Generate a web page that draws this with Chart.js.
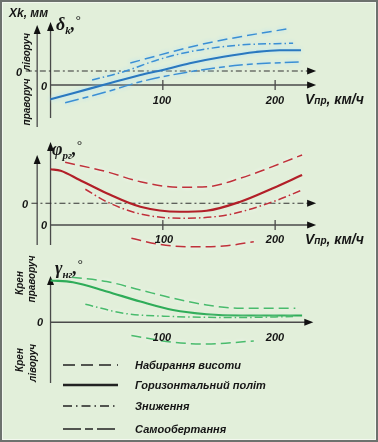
<!DOCTYPE html>
<html>
<head>
<meta charset="utf-8">
<script src="https://cdn.jsdelivr.net/npm/chart.js@4.4.1/dist/chart.umd.min.js"></script>
<style>
html, body { margin: 0; padding: 0; background: #fff; }
#fig { position: relative; width: 378px; height: 442px; background: #e2efda; overflow: hidden;
       font-family: "Liberation Sans", Arial, sans-serif; }
#frame { position: absolute; left: 0; top: 0; width: 378px; height: 442px; box-sizing: border-box;
         border: 2px solid #6d726e; box-shadow: inset 0 0 0 1px #f3f8ef; pointer-events: none; }
canvas { position: absolute; left: 0; }
.t { position: absolute; font-weight: bold; font-style: italic; color: #151515; white-space: nowrap; line-height: 1; }
.c { transform: translate(-50%, -50%); }
.l { transform: translateY(-50%); }
.r { transform: translate(-50%, -50%) rotate(-90deg); font-size: 10px; }
.tick { font-size: 11px; }
.g { font-family: "Liberation Serif", "DejaVu Serif", serif; font-weight: bold; font-size: 18px; }
.g sub { font-size: 11px; vertical-align: -4px; }
.g sup { font-size: 13px; font-weight: normal; vertical-align: 6px; }
.v { font-size: 14px; }
.v small { font-size: 10px; }
.leg { font-size: 11px; }
</style>
</head>
<body>
<div id="fig">
  <canvas id="c1" width="378" height="130" style="top:0px"></canvas>
  <canvas id="c2" width="378" height="130" style="top:125px"></canvas>
  <canvas id="c3" width="378" height="145" style="top:255px"></canvas>

  <!-- panel 1 texts -->
  <div class="t l" style="left:9px;top:13px;font-size:12px">Xk, мм</div>
  <div class="t l g" style="left:56px;top:24px">δ<sub>k</sub>,<sup>°</sup></div>
  <div class="t r" style="left:27px;top:52px">ліворуч</div>
  <div class="t r" style="left:27px;top:102px">праворуч</div>
  <div class="t c tick" style="left:19px;top:72px">0</div>
  <div class="t c tick" style="left:44px;top:86px">0</div>
  <div class="t c tick" style="left:162px;top:100px">100</div>
  <div class="t c tick" style="left:275px;top:100px">200</div>
  <div class="t l v" style="left:305px;top:99px">V<small>пр</small>, км/ч</div>

  <!-- panel 2 texts -->
  <div class="t l g" style="left:52px;top:149px">φ<sub>рг</sub>,<sup>°</sup></div>
  <div class="t c tick" style="left:25px;top:204px">0</div>
  <div class="t c tick" style="left:44px;top:225px">0</div>
  <div class="t c tick" style="left:164px;top:239px">100</div>
  <div class="t c tick" style="left:275px;top:239px">200</div>
  <div class="t l v" style="left:305px;top:239px">V<small>пр</small>, км/ч</div>

  <!-- panel 3 texts -->
  <div class="t l g" style="left:55px;top:268px">γ<sub>нг</sub>,<sup>°</sup></div>
  <div class="t r" style="left:20px;top:283px">Крен</div>
  <div class="t r" style="left:32px;top:279px">праворуч</div>
  <div class="t r" style="left:20px;top:360px">Крен</div>
  <div class="t r" style="left:33px;top:363px">ліворуч</div>
  <div class="t c tick" style="left:40px;top:322px">0</div>
  <div class="t c tick" style="left:162px;top:337px">100</div>
  <div class="t c tick" style="left:275px;top:337px">200</div>

  <!-- legend -->
  <svg style="position:absolute;left:0;top:0" width="378" height="442">
    <g stroke="#222" fill="none">
      <line x1="63" y1="365" x2="118" y2="365" stroke-width="1.5" stroke-dasharray="12 6"/>
      <line x1="63" y1="385" x2="118" y2="385" stroke-width="2.5"/>
      <line x1="63" y1="406" x2="118" y2="406" stroke-width="1.5" stroke-dasharray="9 4 1.5 4"/>
      <line x1="63" y1="429" x2="118" y2="429" stroke-width="1.5" stroke-dasharray="18 4 8 4"/>
    </g>
  </svg>
  <div class="t l leg" style="left:135px;top:365px">Набирання висоти</div>
  <div class="t l leg" style="left:135px;top:385px">Горизонтальний політ</div>
  <div class="t l leg" style="left:135px;top:406px">Зниження</div>
  <div class="t l leg" style="left:135px;top:429px">Самообертання</div>

  <div id="frame"></div>
</div>

<script>
// ---- дані ----
const xTicks = [100, 200];

// δk, град — кут відхилення
const dSpeedLevel = [0, 20, 50, 80, 100, 124, 154, 183, 204, 223];
const dLevel      = [-5.7, -3.3, 0.4, 4.0, 6.0, 8.7, 11.3, 13.2, 13.9, 13.9];
const dSpeedClimb = [71, 109, 139, 169, 210];
const dClimb      = [8.8, 13.4, 16.7, 19.3, 22.4];
const dSpeedDesc  = [37, 65, 95, 124, 169, 216];
const dDesc       = [2.0, 5.3, 10.0, 13.3, 16.0, 16.7];
const dSpeedAuto  = [13, 50, 80, 124, 169, 224];
const dAuto       = [-7.1, -2.7, 1.3, 5.3, 8.0, 9.3];

// φрг, град
const pSpeedLevel = [0, 9, 26, 50, 80, 115, 139, 169, 198, 224];
const pLevel      = [22.3, 21.7, 18.0, 12.7, 7.3, 5.3, 5.7, 9.3, 14.7, 20.0];
const pSpeedClimb = [13, 50, 80, 115, 139, 169, 224];
const pClimb      = [25.1, 21.3, 17.3, 15.1, 15.3, 18.7, 28.0];
const pSpeedDesc  = [31, 50, 80, 118, 157, 198, 224];
const pDesc       = [14.3, 9.3, 4.4, 2.7, 4.0, 9.3, 14.0];
const pSpeedAuto  = [72, 95, 124, 154, 181];
const pAuto       = [-5.3, -7.6, -8.7, -8.4, -6.7];

// γнг, град
const gSpeedLevel = [0, 20, 50, 80, 109, 139, 169, 224];
const gLevel      = [16.7, 16.0, 12.3, 8.3, 4.9, 3.2, 2.7, 2.7];
const gSpeedClimb = [19, 50, 80, 109, 139, 169, 218];
const gClimb      = [18.0, 16.3, 12.9, 9.6, 6.9, 5.6, 5.6];
const gSpeedDesc  = [31, 65, 109, 169, 216];
const gDesc       = [7.2, 3.6, 2.3, 1.9, 2.3];
const gSpeedAuto  = [72, 109, 139, 181];
const gAuto       = [-5.3, -8.0, -8.7, -7.5];

// ---- стилі ----
const DASH = { climb: [10, 5], level: [], desc: [8, 3, 1.5, 3], auto: [14, 4, 6, 4] };

function pts(xs, ys) {
  return xs.map((v, i) => ({ x: v, y: ys[i] }));
}

function ds(xs, ys, kind, color, halo) {
  return {
    data: pts(xs, ys),
    borderColor: color,
    borderWidth: kind === 'level' ? 2.2 : 1.5,
    borderDash: DASH[kind],
    cubicInterpolationMode: 'monotone',
    pointRadius: 0,
    fill: false,
    halo: halo
  };
}

function arrow(ctx, x, y, dir) {
  ctx.save();
  ctx.fillStyle = '#111';
  ctx.beginPath();
  if (dir === 'up') {
    ctx.moveTo(x, y); ctx.lineTo(x - 3.5, y + 9); ctx.lineTo(x + 3.5, y + 9);
  } else {
    ctx.moveTo(x, y); ctx.lineTo(x - 9, y - 3.5); ctx.lineTo(x - 9, y + 3.5);
  }
  ctx.closePath();
  ctx.fill();
  ctx.restore();
}

// осі зі стрілками
const axesPlugin = {
  id: 'axes',
  beforeDatasetsDraw(chart, args, o) {
    const { ctx, scales: { x, y } } = chart;
    const x0 = x.getPixelForValue(0);
    const xe = x.getPixelForValue(o.xEnd);
    const y0 = y.getPixelForValue(0);
    ctx.save();
    ctx.strokeStyle = '#4a4a4a';
    ctx.lineWidth = 1.3;
    // внутрішня вертикальна вісь
    ctx.beginPath();
    ctx.moveTo(x0, y.getPixelForValue(o.axTop) + 6);
    ctx.lineTo(x0, y.getPixelForValue(o.axBottom));
    ctx.stroke();
    arrow(ctx, x0, y.getPixelForValue(o.axTop), 'up');
    // зовнішня вісь
    if (o.outer) {
      const xo = x.getPixelForValue(o.outer.x);
      ctx.beginPath();
      ctx.moveTo(xo, y.getPixelForValue(o.outer.top) + 6);
      ctx.lineTo(xo, y.getPixelForValue(o.outer.bottom));
      ctx.stroke();
      arrow(ctx, xo, y.getPixelForValue(o.outer.top), 'up');
    }
    // горизонтальна вісь
    ctx.beginPath();
    ctx.moveTo(x0, y0);
    ctx.lineTo(xe - 6, y0);
    ctx.stroke();
    arrow(ctx, xe, y0, 'right');
    if (o.ticks) {
      xTicks.forEach(t => {
        const px = x.getPixelForValue(t);
        ctx.beginPath();
        ctx.moveTo(px, y0 - 5);
        ctx.lineTo(px, y0 + 5);
        ctx.stroke();
      });
    }
    // нуль зовнішньої шкали
    if (o.ref != null) {
      const yr = y.getPixelForValue(o.ref);
      ctx.strokeStyle = '#333';
      ctx.lineWidth = 1.1;
      ctx.setLineDash([6, 3, 2, 3]);
      ctx.beginPath();
      ctx.moveTo(x.getPixelForValue(o.refStart), yr);
      ctx.lineTo(xe - 6, yr);
      ctx.stroke();
      ctx.setLineDash([]);
      arrow(ctx, xe, yr, 'right');
    }
    ctx.restore();
  },
  beforeDatasetDraw(chart, args) {
    const d = args.meta.controller.getDataset();
    chart.ctx.save();
    if (d.halo) {
      chart.ctx.shadowColor = d.halo;
      chart.ctx.shadowBlur = 4;
    }
  },
  afterDatasetDraw(chart) {
    chart.ctx.restore();
  }
};

function makePanel(id, yMin, yMax, datasets, axOpts) {
  new Chart(document.getElementById(id).getContext('2d'), {
    type: 'line',
    data: { datasets: datasets },
    plugins: [axesPlugin],
    options: {
      responsive: false,
      animation: false,
      devicePixelRatio: 1,
      layout: { padding: 0 },
      scales: {
        x: { type: 'linear', display: false, min: -45, max: 291.6 },
        y: { type: 'linear', display: false, min: yMin, max: yMax }
      },
      plugins: {
        legend: { display: false },
        tooltip: { enabled: false },
        axes: axOpts
      }
    }
  });
}

const BLUE = '#2a78bf', BLUE2 = '#3b8fd4', HALO_B = 'rgba(170,225,255,0.95)';
const RED = '#b21f28', RED2 = '#c0313a', HALO_R = 'rgba(255,255,255,0.8)';
const GREEN = '#2eac58', GREEN2 = '#49bb6c', HALO_G = 'rgba(255,255,255,0.7)';

makePanel('c1', -18, 34, [
  ds(dSpeedClimb, dClimb, 'climb', BLUE2, HALO_B),
  ds(dSpeedDesc, dDesc, 'desc', BLUE2, HALO_B),
  ds(dSpeedAuto, dAuto, 'auto', BLUE2, HALO_B),
  ds(dSpeedLevel, dLevel, 'level', BLUE, HALO_B)
], { xEnd: 236.5, axTop: 25.2, axBottom: -13.2, ticks: true, ref: 5.6, refStart: -22,
     outer: { x: -11.9, top: 24, bottom: -16.8 } });

makePanel('c2', -12, 40, [
  ds(pSpeedClimb, pClimb, 'climb', RED2, HALO_R),
  ds(pSpeedDesc, pDesc, 'desc', RED2, HALO_R),
  ds(pSpeedAuto, pAuto, 'climb', RED2, HALO_R),
  ds(pSpeedLevel, pLevel, 'level', RED, null)
], { xEnd: 236.5, axTop: 33.2, axBottom: -8, ticks: true, ref: 8.7, refStart: -17,
     outer: { x: -11.9, top: 28, bottom: -8 } });

makePanel('c3', -31.1, 26.9, [
  ds(gSpeedClimb, gClimb, 'climb', GREEN2, HALO_G),
  ds(gSpeedDesc, gDesc, 'desc', GREEN2, HALO_G),
  ds(gSpeedAuto, gAuto, 'climb', GREEN2, HALO_G),
  ds(gSpeedLevel, gLevel, 'level', GREEN, null)
], { xEnd: 234, axTop: 18.5, axBottom: -24.3, ticks: false, ref: null });
</script>
</body>
</html>
